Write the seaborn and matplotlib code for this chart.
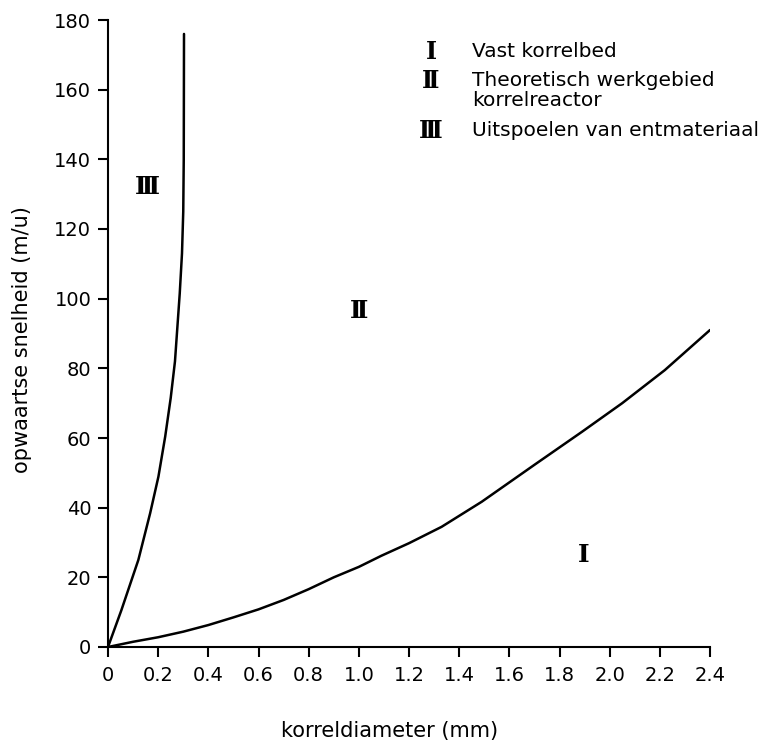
import matplotlib
matplotlib.use("Agg")
import matplotlib.pyplot as plt
import seaborn as sns
import pandas as pd

# Data
steep_x = [0, 0.053, 0.121, 0.168, 0.201, 0.228, 0.250, 0.267, 0.286, 0.295, 0.300, 0.302, 0.303]
steep_y = [0, 10.5, 25.0, 38.4, 48.9, 60.4, 71.5, 82.0, 101.5, 113.0, 125.0, 140.0, 176.0]

flat_x = [0, 0.1, 0.2, 0.3, 0.4, 0.5, 0.6, 0.7, 0.8, 0.9, 1.0, 1.09, 1.2, 1.33, 1.49, 1.7, 1.89, 2.05, 2.22, 2.4]
flat_y = [0, 1.5, 2.8, 4.4, 6.3, 8.5, 10.8, 13.5, 16.6, 20.0, 23.0, 26.2, 29.8, 34.5, 41.7, 52.3, 61.8, 70.0, 79.5, 91.0]

region_labels = ["Ⅰ", "Ⅱ", "Ⅲ"]
region_x = [1.895, 1.0, 0.155]
region_y = [26.4, 96.5, 132]

legend_texts = ["Vast korrelbed", "Theoretisch werkgebied\nkorrelreactor", "Uitspoelen van entmateriaal"]

x_ticks = [0, 0.2, 0.4, 0.6, 0.8, 1.0, 1.2, 1.4, 1.6, 1.8, 2.0, 2.2, 2.4]
x_ticklabels = ["0", "0.2", "0.4", "0.6", "0.8", "1.0", "1.2", "1.4", "1.6", "1.8", "2.0", "2.2", "2.4"]
y_ticks = [0, 20, 40, 60, 80, 100, 120, 140, 160, 180]

sns.set_theme(style="ticks")
plt.rcParams['font.family'] = ['DejaVu Sans']
plt.rcParams['text.color'] = 'black'
plt.rcParams['axes.labelcolor'] = 'black'
plt.rcParams['xtick.color'] = 'black'
plt.rcParams['ytick.color'] = 'black'

fig = plt.figure(figsize=(7.78, 7.43), dpi=100)
ax = fig.add_axes([108/778, 1-647/743, (710-108)/778, (647-20)/743])

df1 = pd.DataFrame({"x": steep_x, "y": steep_y})
df2 = pd.DataFrame({"x": flat_x, "y": flat_y})
sns.lineplot(data=df1, x="x", y="y", ax=ax, color="black", lw=1.8, sort=False)
sns.lineplot(data=df2, x="x", y="y", ax=ax, color="black", lw=1.8, sort=False)

ax.set_xlim(0, 2.4)
ax.set_ylim(0, 180)
ax.set_xticks(x_ticks)
ax.set_xticklabels(x_ticklabels)
ax.set_yticks(y_ticks)
ax.tick_params(axis="both", labelsize=14, color="black", width=1.5, length=7, labelcolor="black")
ax.tick_params(axis="x", pad=7)
ax.tick_params(axis="y", pad=5)
for s in ["top", "right"]:
    ax.spines[s].set_visible(False)
for s in ["left", "bottom"]:
    ax.spines[s].set_color("black")
    ax.spines[s].set_linewidth(1.5)

ax.set_xlabel("korreldiameter (mm)", fontsize=15)
ax.xaxis.set_label_coords((390 - 108) / 602, (647 - 721) / 627)
ax.set_ylabel("opwaartse snelheid (m/u)", fontsize=15)
ax.yaxis.set_label_coords((32 - 108) / 602, (647 - 340) / 627)

for lab, x, y in zip(region_labels, region_x, region_y):
    ax.text(x, y, lab, fontsize=18, family="DejaVu Serif", fontweight="bold",
            ha="center", va="center", color="black")

# Legend block (text annotations in figure coordinates)
leg_sym_x = 431 / 778
leg_txt_x = 472 / 778
leg_rows = [52, 81, 131]
for lab, txt, ypx in zip(region_labels, legend_texts, leg_rows):
    fig.text(leg_sym_x, 1 - ypx / 743, lab, fontsize=17, family="DejaVu Serif", fontweight="bold",
             ha="center", va="center", color="black")
    fig.text(leg_txt_x, 1 - (ypx - 10) / 743, txt, fontsize=14.5, ha="left", va="top",
             color="black", linespacing=1.05)

fig.savefig("out.png", dpi=100)
